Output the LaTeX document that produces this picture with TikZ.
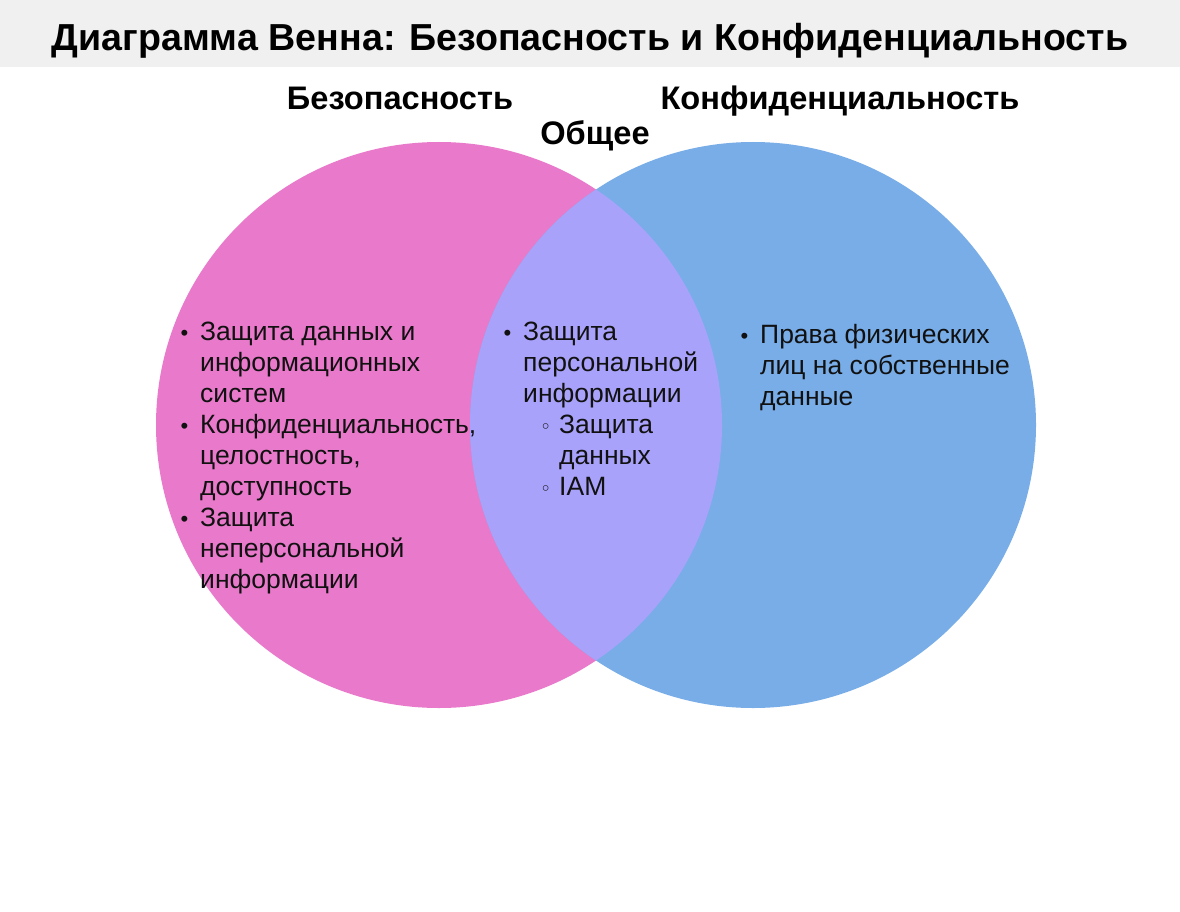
\documentclass[tikz,border=0pt]{standalone}
\usepackage{fontspec}
\setmainfont{Liberation Sans}
\newfontfamily\symfont{DejaVu Sans}
\definecolor{barbg}{HTML}{F0F0F0}
\definecolor{pinkc}{HTML}{E97ACB}
\definecolor{bluec}{HTML}{78ADE8}
\definecolor{lavc}{HTML}{A8A2FA}
\definecolor{txt}{HTML}{111111}
\newcommand{\bul}{\llap{{\fontsize{22pt}{22pt}\selectfont\textbullet}\hspace{12pt}}}
\newcommand{\subbul}{\hspace*{36pt}\llap{{\symfont\fontsize{19pt}{19pt}\selectfont ◦}\hspace{8pt}}}
\begin{document}
\begin{tikzpicture}[x=1pt,y=-1pt,
  titletext/.style={inner sep=0, font={\fontsize{37.6pt}{42pt}\selectfont\bfseries}, text=black},
  settext/.style={inner sep=0, font={\fontsize{32.6pt}{38pt}\selectfont\bfseries}, text=black},
  listtext/.style={inner sep=0, anchor=base west, text=txt, font={\fontsize{26.5pt}{31pt}\selectfont}}]
\useasboundingbox (0,0) rectangle (1180,912);
\fill[white] (0,0) rectangle (1180,912);
\fill[barbg] (0,0) rectangle (1180,67);
\node[titletext, anchor=base] (title) at (590,50.5) {Диаграмма Венна: Безопасность и Конфиденциальность};
% circles
\fill[pinkc] (439,425) circle[radius=283pt];
\fill[bluec] (753,425) circle[radius=283pt];
\begin{scope}
  \clip (439,425) circle[radius=283pt];
  \fill[lavc] (753,425) circle[radius=283pt];
\end{scope}
% set labels
\node[settext, anchor=base] (lsec) at (400,110) {Безопасность};
\node[settext, anchor=base] (lpriv) at (840,110) {Конфиденциальность};
\node[settext, anchor=base] (lcom) at (595,145) {Общее};
% lists
\node[listtext] (left) at (200,340.7) {\begin{tabular}[t]{@{}l@{}}
\bul Защита данных и\\
информационных\\
систем\\
\bul Конфиденциальность,\\
целостность,\\
доступность\\
\bul Защита\\
неперсональной\\
информации
\end{tabular}};
\node[listtext] (mid) at (523,340.7) {\begin{tabular}[t]{@{}l@{}}
\bul Защита\\
персональной\\
информации\\
\subbul Защита\\
\hspace*{36pt}данных\\
\subbul IAM
\end{tabular}};
\node[listtext] (right) at (760,343) {\begin{tabular}[t]{@{}l@{}}
\bul Права физических\\
лиц на собственные\\
данные
\end{tabular}};
\end{tikzpicture}
\end{document}
